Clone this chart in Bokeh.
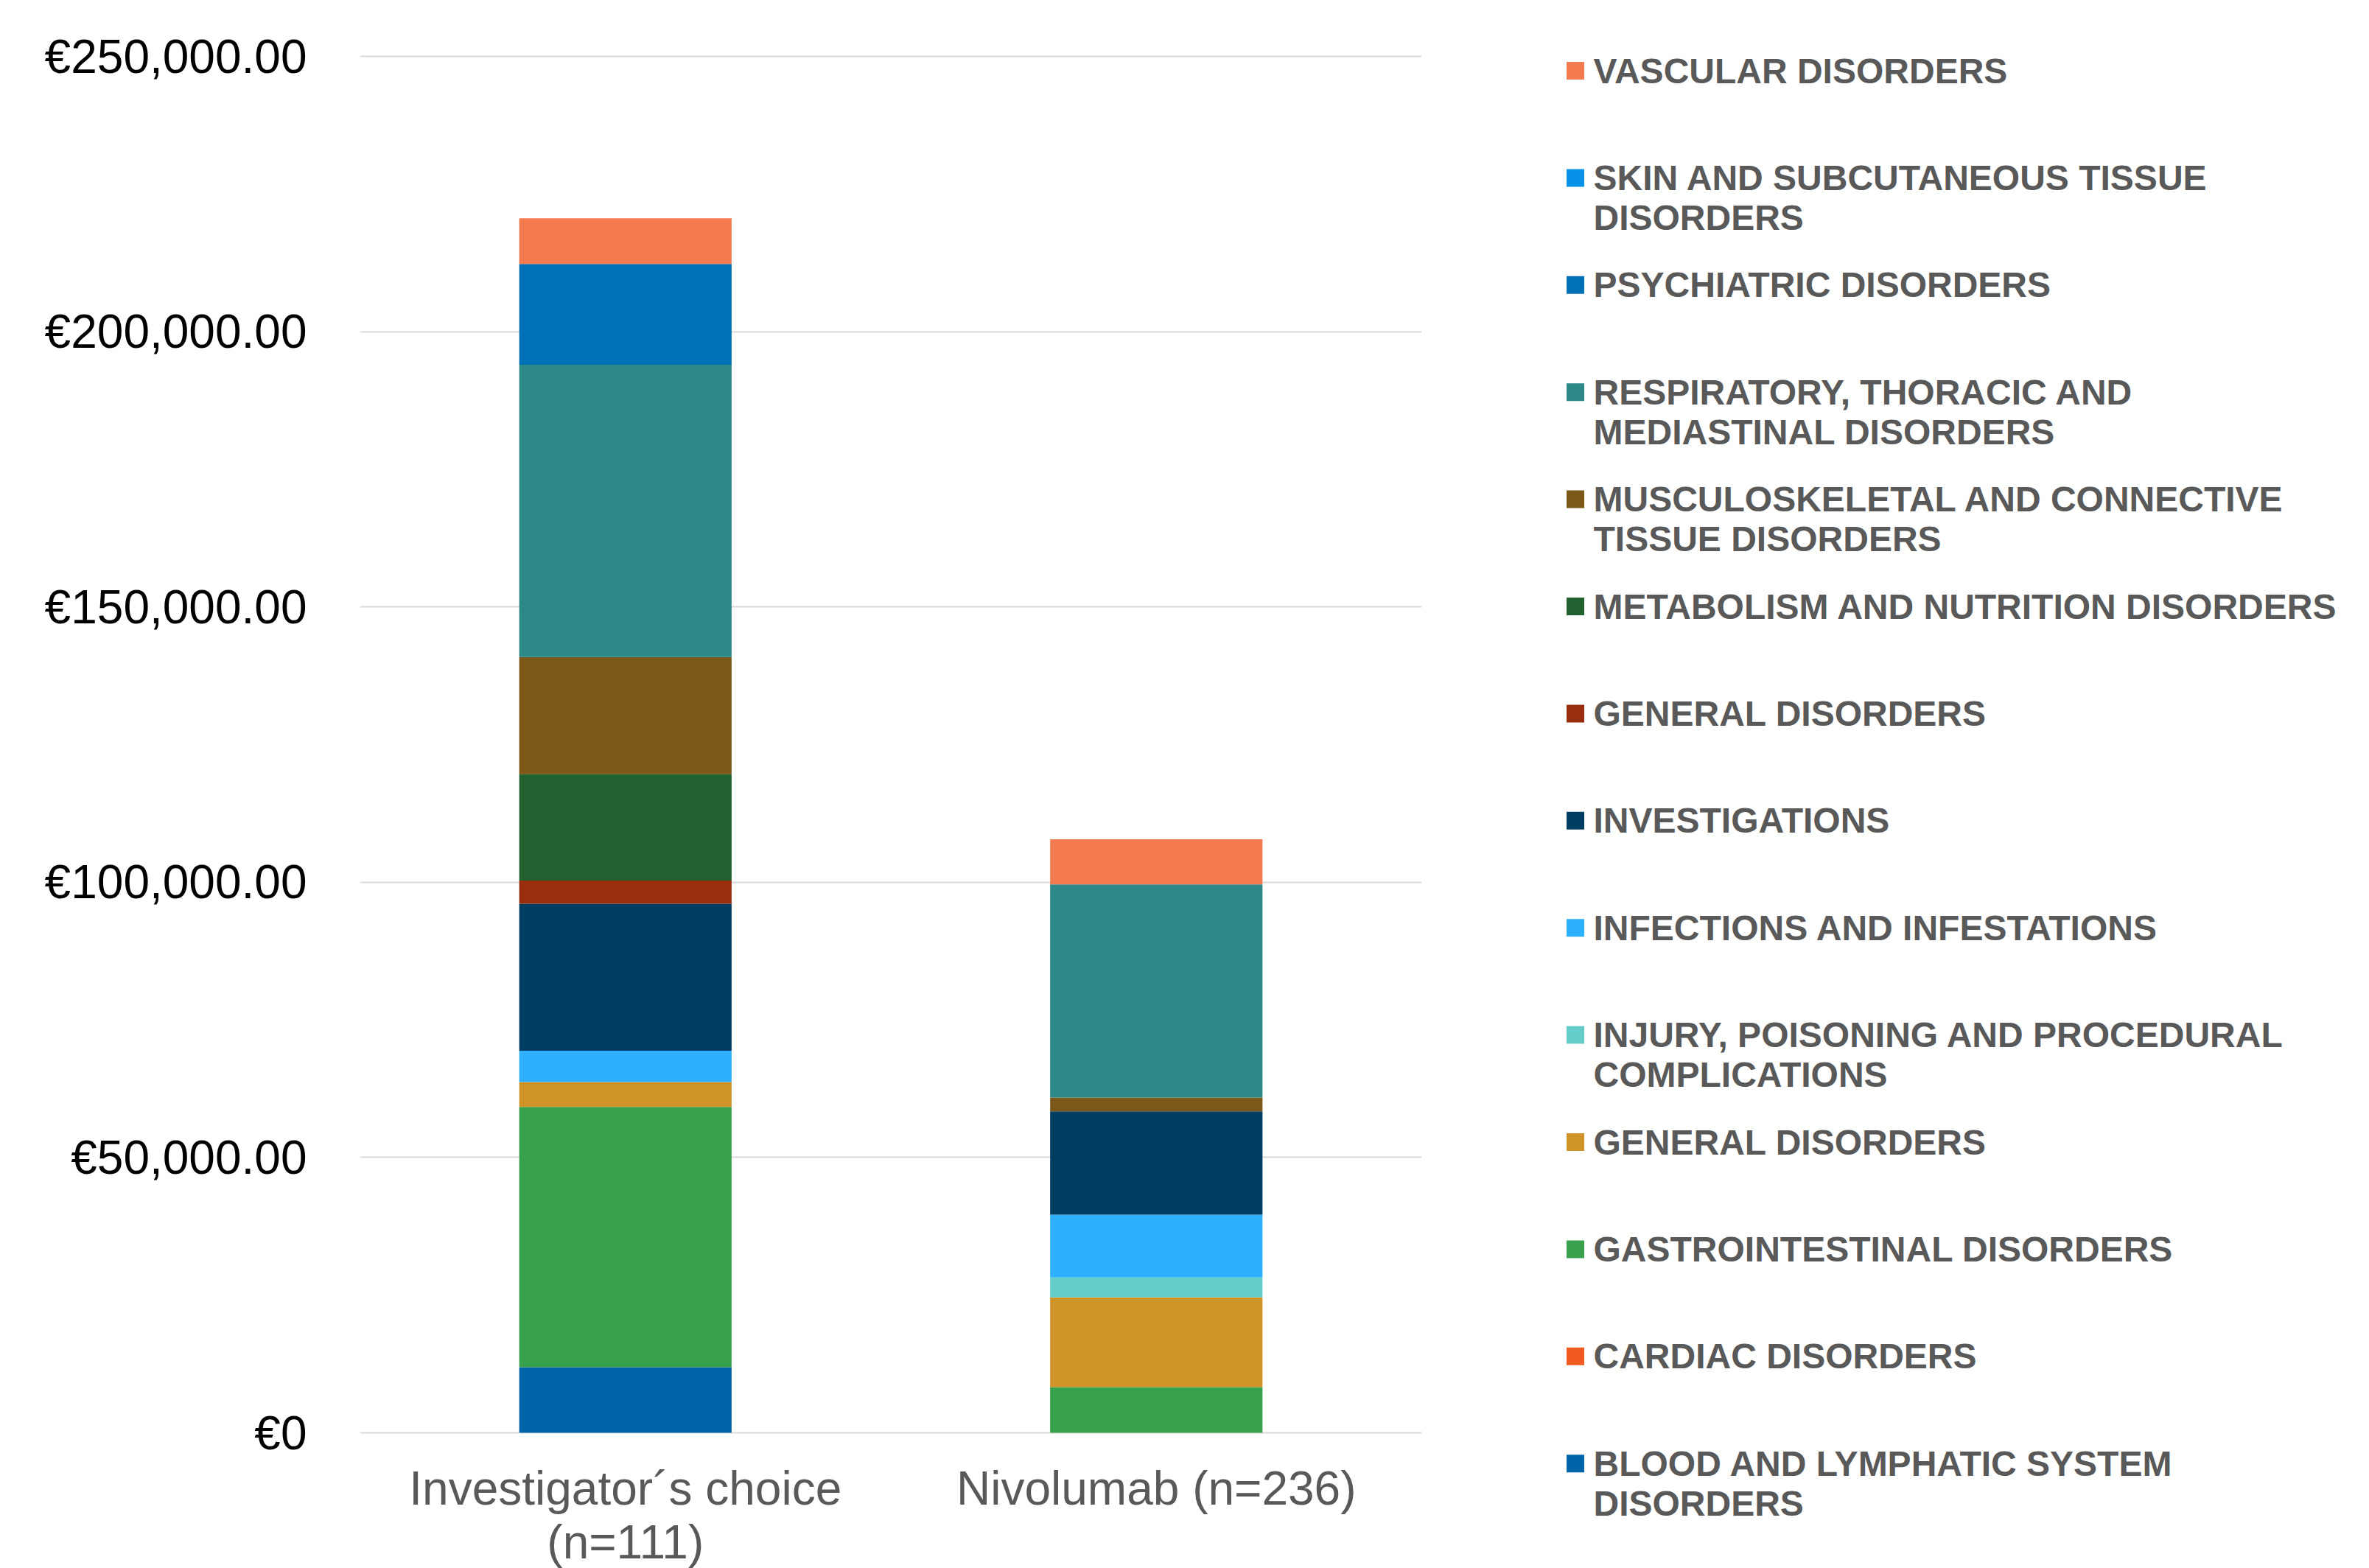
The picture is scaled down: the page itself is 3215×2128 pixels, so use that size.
from bokeh.plotting import figure
from bokeh.models import ColumnDataSource, Range1d, FactorRange, FixedTicker
from bokeh.layouts import row
from bokeh.embed import file_html
from bokeh.resources import INLINE
from bokeh.core.properties import value

# ---------------- data ----------------
groups = ["Investigator´s choice (n=111)", "Nivolumab (n=236)"]
group_labels = ["Investigator´s choice\n(n=111)", "Nivolumab (n=236)"]

# stacking order: bottom -> top
categories = [
    "BLOOD AND LYMPHATIC SYSTEM\nDISORDERS",
    "CARDIAC DISORDERS",
    "GASTROINTESTINAL DISORDERS",
    "GENERAL DISORDERS",
    "INJURY, POISONING AND PROCEDURAL\nCOMPLICATIONS",
    "INFECTIONS AND INFESTATIONS",
    "INVESTIGATIONS",
    "GENERAL DISORDERS",
    "METABOLISM AND NUTRITION DISORDERS",
    "MUSCULOSKELETAL AND CONNECTIVE\nTISSUE DISORDERS",
    "RESPIRATORY, THORACIC AND\nMEDIASTINAL DISORDERS",
    "PSYCHIATRIC DISORDERS",
    "SKIN AND SUBCUTANEOUS TISSUE\nDISORDERS",
    "VASCULAR DISORDERS",
]
investigator = [11900, 0, 47300, 4500, 0, 5700, 26700, 4200, 19300, 21300, 53100, 18300, 0, 8300]
nivolumab = [0, 0, 8300, 16300, 3600, 11400, 18800, 0, 0, 2500, 38700, 0, 0, 8200]
colors = [
    "#0065A8", "#F15A22", "#38A14B", "#D09328", "#64CDCA", "#2EB0FF", "#003D62",
    "#992D0D", "#21602F", "#7B5818", "#2D8987", "#0071B4", "#0891E8", "#F47B50",
]
y_ticks = [0, 50000, 100000, 150000, 200000, 250000]
y_tick_labels = ["€0", "€50,000.00", "€100,000.00", "€150,000.00", "€200,000.00", "€250,000.00"]

FONT = "Liberation Sans"
W, H = 3215, 2128
MAIN_W = 2080
TOP_PX, ZERO_PX = 76, 1944      # pixel rows of 250,000 and of 0
YMAX = 250000
val_per_px = YMAX / (ZERO_PX - TOP_PX)

# ---------------- main chart ----------------
keys = ["s%d" % i for i in range(len(categories))]
data = {"group": groups}
for k, a, b in zip(keys, investigator, nivolumab):
    data[k] = [a, b]
source = ColumnDataSource(data)

p = figure(
    width=MAIN_W, height=H,
    x_range=FactorRange(*groups),
    # frame spans full height; range chosen so 0 and 250,000 land on the reference rows
    y_range=Range1d(-(H - ZERO_PX) * val_per_px, ZERO_PX * val_per_px),
    output_backend="svg", toolbar_location=None,
    min_border_left=488, min_border_right=MAIN_W - 1929,
    min_border_top=0, min_border_bottom=0,
)
p.vbar_stack(keys, x="group", width=0.4, color=colors, line_color=None, source=source)

p.outline_line_color = None
p.xaxis.visible = False
p.xgrid.grid_line_color = None
p.ygrid.grid_line_color = "#D9D9D9"
p.ygrid.grid_line_width = 2
p.ygrid.ticker = FixedTicker(ticks=y_ticks)
p.yaxis.ticker = FixedTicker(ticks=y_ticks)
p.yaxis.major_label_overrides = dict(zip(y_ticks, y_tick_labels))
p.yaxis.axis_line_color = None
p.yaxis.major_tick_line_color = None
p.yaxis.minor_tick_line_color = None
p.yaxis.major_label_text_font = FONT
p.yaxis.major_label_text_font_size = "64px"
p.yaxis.major_label_text_color = "#000000"
p.yaxis.major_label_standoff = 66

# category labels (multi-line) below the zero line
first_baseline_px, line_px = 75, 73
lab = {"x": [], "y": [], "t": []}
for g, label in zip(groups, group_labels):
    for j, line in enumerate(label.split("\n")):
        lab["x"].append(g)
        lab["y"].append(-(first_baseline_px + j * line_px) * val_per_px)
        lab["t"].append(line)
p.text(x="x", y="y", text="t", source=ColumnDataSource(lab),
       text_font=value(FONT), text_font_size="64px", text_color="#595959",
       text_align="center", text_baseline="alphabetic")

# ---------------- legend panel ----------------
LW = W - MAIN_W
lg = figure(
    width=LW, height=H,
    x_range=Range1d(0, LW), y_range=Range1d(H, 0),
    x_axis_type=None, y_axis_type=None,
    output_backend="svg", toolbar_location=None,
    min_border=0,
)
lg.outline_line_color = None
lg.grid.visible = False

row0, row_step, line_step = 95.5, 145.4, 54
sq_x, sq_size, txt_x = 57.5, 24, 82
sq = {"x": [], "y": [], "c": []}
tx = {"x": [], "y": [], "t": []}
for i, (name, col) in enumerate(zip(reversed(categories), reversed(colors))):
    y0 = row0 + i * row_step
    sq["x"].append(sq_x)
    sq["y"].append(y0)
    sq["c"].append(col)
    for j, line in enumerate(name.split("\n")):
        tx["x"].append(txt_x)
        tx["y"].append(y0 + j * line_step)
        tx["t"].append(line)

lg.rect(x="x", y="y", width=sq_size, height=sq_size, color="c", line_color=None,
        source=ColumnDataSource(sq))
lg.text(x="x", y="y", text="t", source=ColumnDataSource(tx),
        text_font=value(FONT), text_font_style="bold", text_font_size="48px",
        text_color="#595959", text_baseline="middle", text_align="left")

layout = row(p, lg)
open("out.html", "w").write(file_html(layout, INLINE))
